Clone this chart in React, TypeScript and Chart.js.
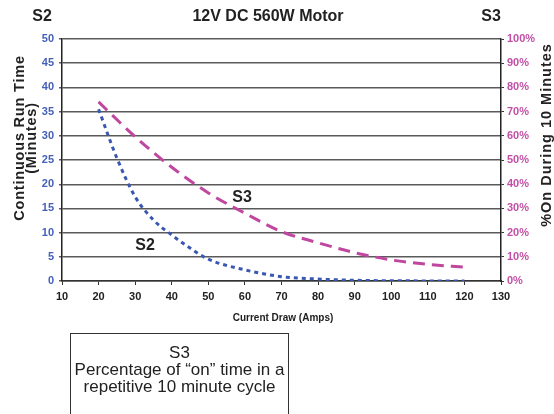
import React, { useEffect, useRef } from "react";
import { Chart, registerables } from "chart.js";

Chart.register(...registerables);

// ---- Data ----
const s2Amps = [20, 25, 30, 35, 40, 45, 50, 60, 70, 80, 90, 100, 110, 120];
const s2Minutes = [35.5, 25.4, 17.4, 12.6, 9.5, 6.8, 4.5, 2.3, 0.9, 0.4, 0.15, 0.05, 0.02, 0];
const s3Amps = [20, 30, 40, 50, 60, 70, 80, 90, 100, 110, 120];
const s3Percent = [74, 59.6, 47, 36.4, 28, 20.4, 15.8, 11.7, 8.7, 6.9, 5.7];

const title = "12V DC 560W Motor";
const leftHeader = "S2";
const rightHeader = "S3";
const leftAxisTitle = ["Continuous Run Time", "(Minutes)"];
const rightAxisTitle = "%On During 10 Minutes";
const xAxisTitle = "Current Draw (Amps)";
const noteLines = ["S3", "Percentage of \u201Con\u201D time in a", "repetitive 10 minute cycle"];

const FONT = "'Liberation Sans', Arial, Helvetica, sans-serif";
const BLUE = "#3a57b1";
const BLUE_TXT = "#4461b9";
const MAGENTA = "#c0479f";
const MAGENTA_TXT = "#c24fa6";

const textPlugin = {
  id: "customText",
  afterDraw(chart: any) {
    const ctx = chart.ctx;
    const xs = chart.scales.x;
    const ys = chart.scales.y;
    ctx.save();
    ctx.fillStyle = "#222";
    ctx.textAlign = "center";
    ctx.textBaseline = "middle";
    // headers
    ctx.font = `bold 16px ${FONT}`;
    ctx.fillText(leftHeader, 42, 17);
    ctx.fillText(title, 268, 17);
    ctx.fillText(rightHeader, 491, 17);
    // in-chart labels
    ctx.fillText("S2", xs.getPixelForValue(32.7), ys.getPixelForValue(7.4));
    ctx.fillText("S3", xs.getPixelForValue(59.2), ys.getPixelForValue(17.3));
    // left axis title
    ctx.font = `bold 14.5px ${FONT}`;
    (ctx as any).letterSpacing = "0.8px";
    ctx.save();
    ctx.translate(20, 138);
    ctx.rotate(-Math.PI / 2);
    ctx.fillText(leftAxisTitle[0], 0, 0);
    ctx.fillText(leftAxisTitle[1], 0, 12);
    ctx.restore();
    // right axis title
    (ctx as any).letterSpacing = "1px";
    ctx.save();
    ctx.translate(546.5, 135);
    ctx.rotate(-Math.PI / 2);
    ctx.fillText(rightAxisTitle, 0, 0);
    ctx.restore();
    (ctx as any).letterSpacing = "0px";
    // x axis title
    ctx.font = `bold 10px ${FONT}`;
    ctx.fillText(xAxisTitle, 283, 318);
    ctx.restore();
  },
};

export default function App() {
  const ref = useRef<HTMLCanvasElement>(null);
  useEffect(() => {
    if (!ref.current) return;
    const chart = new Chart(ref.current, {
      type: "line",
      data: {
        datasets: [
          {
            label: "S2",
            data: s2Amps.map((a, i) => ({ x: a, y: s2Minutes[i] })),
            yAxisID: "y",
            borderColor: BLUE,
            borderWidth: 3,
            borderDash: [4, 4],
            pointRadius: 0,
            cubicInterpolationMode: "monotone",
            fill: false,
          },
          {
            label: "S3",
            data: s3Amps.map((a, i) => ({ x: a, y: s3Percent[i] })),
            yAxisID: "y2",
            borderColor: MAGENTA,
            borderWidth: 3,
            borderDash: [12, 7],
            pointRadius: 0,
            cubicInterpolationMode: "monotone",
            fill: false,
          },
        ],
      },
      options: {
        animation: false,
        responsive: false,
        devicePixelRatio: 1,
        layout: { padding: { top: 39, bottom: 89, left: 0, right: 0 } },
        plugins: { legend: { display: false }, tooltip: { enabled: false }, title: { display: false } },
        scales: {
          x: {
            type: "linear",
            min: 10,
            max: 130,
            afterFit: (s: any) => { s.height = 44; },
            ticks: { stepSize: 10, color: "#222", padding: 5, font: { family: FONT, size: 11, weight: "bold" } },
            grid: { drawOnChartArea: false, drawTicks: true, tickLength: 4, color: "#333", lineWidth: 1 },
            border: { display: true, color: "#333", width: 1.5 },
          },
          y: {
            position: "left",
            min: 0,
            max: 50,
            afterFit: (s: any) => { s.width = 62; },
            ticks: { stepSize: 5, color: BLUE_TXT, padding: 5, font: { family: FONT, size: 11, weight: "bold" } },
            grid: { color: "#5a5a5a", lineWidth: 1.4, tickLength: 3 },
            border: { display: true, color: "#222", width: 1.5 },
          },
          y2: {
            position: "right",
            min: 0,
            max: 100,
            afterFit: (s: any) => { s.width = 53; },
            ticks: {
              stepSize: 10,
              color: MAGENTA_TXT,
              padding: 3,
              font: { family: FONT, size: 11, weight: "bold" },
              callback: (v: any) => `${v}%`,
            },
            grid: { drawOnChartArea: false, tickLength: 3, color: "#333" },
            border: { display: true, color: "#222", width: 1.5 },
          },
        },
      },
      plugins: [textPlugin],
    });
    return () => chart.destroy();
  }, []);

  return (
    <div style={{ position: "fixed", left: 0, top: 0, width: 554, height: 414, background: "#fff", overflow: "hidden" }}>
      <canvas ref={ref} width={554} height={414} style={{ position: "absolute", left: 0, top: 0 }} />
      <div
        style={{
          position: "absolute",
          left: 70,
          top: 333,
          width: 219,
          height: 100,
          border: "1px solid #333",
          boxSizing: "border-box",
          textAlign: "center",
          fontFamily: FONT,
          fontSize: 17,
          lineHeight: "17px",
          paddingTop: 10,
          color: "#222",
        }}
      >
        {noteLines.map((l, i) => (
          <div key={i}>{l}</div>
        ))}
      </div>
    </div>
  );
}
